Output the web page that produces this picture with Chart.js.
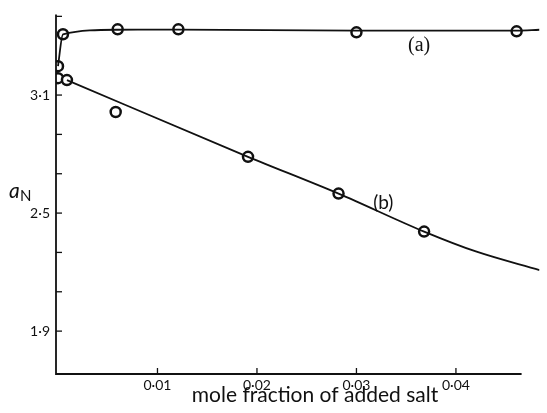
<!DOCTYPE html>
<html>
<head>
<meta charset="utf-8">
<script src="https://cdn.jsdelivr.net/npm/chart.js@4"></script>
<style>
  html, body { margin: 0; padding: 0; background: #fff; }
  #wrap { width: 547px; height: 413px; }
</style>
</head>
<body>
<div id="wrap"><canvas id="saltChart" width="547" height="413"></canvas></div>
<script>
// --- Data ---
// measured points, curve (a)
const aX = [0, 0.0005, 0.0060, 0.0121, 0.0300, 0.0461];
const aY = [3.247, 3.409, 3.434, 3.434, 3.419, 3.424];
// measured points, curve (b)
const bX = [0, 0.0009, 0.0058, 0.0191, 0.0282, 0.0368];
const bY = [3.186, 3.176, 3.014, 2.786, 2.599, 2.406];
// hand-drawn fitted curves (nodes)
const curveAX = [0, 0.0005, 0.0060, 0.0121, 0.0300, 0.0461, 0.0484];
const curveAY = [3.247, 3.409, 3.432, 3.433, 3.428, 3.428, 3.432];
const curveBX = [0.0009, 0.0191, 0.0282, 0.0368, 0.0420, 0.0484];
const curveBY = [3.176, 2.786, 2.599, 2.406, 2.305, 2.210];
// ticks
const xTicks = [0.01, 0.02, 0.03, 0.04];
const yTicks = [1.9, 2.1, 2.3, 2.5, 2.7, 2.9, 3.1, 3.5];
const yLabelled = [1.9, 2.5, 3.1];

const pts = (xs, ys) => xs.map((x, i) => ({ x: x, y: ys[i] }));
const dotLabel = v => v.toString().replace(".", "·");

// axes, inward tick marks and free text
const decorPlugin = {
  id: "decor",
  afterDraw(chart) {
    const c = chart.ctx;
    const xs = chart.scales.x, ys = chart.scales.y;
    const a = chart.chartArea;
    c.save();
    c.strokeStyle = "#111";
    c.lineWidth = 1.8;
    c.beginPath();
    c.moveTo(a.left, a.top);
    c.lineTo(a.left, a.bottom);
    c.lineTo(xs.getPixelForValue(0.0466), a.bottom);
    c.stroke();
    c.lineWidth = 1.3;
    xTicks.forEach(v => {
      const px = xs.getPixelForValue(v);
      c.beginPath(); c.moveTo(px, a.bottom); c.lineTo(px, a.bottom - 6); c.stroke();
    });
    yTicks.forEach(v => {
      const py = ys.getPixelForValue(v);
      c.beginPath(); c.moveTo(a.left, py); c.lineTo(a.left + 6, py); c.stroke();
    });
    c.fillStyle = "#111";
    c.textBaseline = "alphabetic";
    c.textAlign = "center";
    c.font = "21px Lato";
    c.fillText("mole fraction of added salt", 315, 402);
    c.font = "20px 'Liberation Serif'";
    c.fillText("(a)", xs.getPixelForValue(0.0363), ys.getPixelForValue(3.325));
    c.font = "19px Lato";
    c.fillText("(b)", xs.getPixelForValue(0.0327), ys.getPixelForValue(2.52));
    c.textAlign = "left";
    c.font = "italic 21px Lato";
    c.fillText("a", 9, 198);
    c.font = "15px Lato";
    c.fillText("N", 20, 201);
    c.restore();
  }
};

const circle = {
  pointRadius: 5,
  pointHoverRadius: 5,
  pointBackgroundColor: "#fff",
  pointBorderColor: "#111",
  pointBorderWidth: 2.5,
  showLine: false
};

new Chart(document.getElementById("saltChart"), {
  type: "scatter",
  data: {
    datasets: [
      { data: pts(curveAX, curveAY), showLine: true, pointRadius: 0, borderColor: "#111",
        borderWidth: 1.8, cubicInterpolationMode: "monotone", fill: false },
      { data: pts(curveBX, curveBY), showLine: true, pointRadius: 0, borderColor: "#111",
        borderWidth: 1.8, cubicInterpolationMode: "monotone", fill: false },
      Object.assign({ data: pts(aX, aY) }, circle),
      Object.assign({ data: pts(bX, bY) }, circle)
    ]
  },
  options: {
    responsive: false,
    animation: false,
    events: [],
    layout: { padding: { left: 0, top: 13, right: 0, bottom: 0 } },
    plugins: { legend: { display: false }, tooltip: { enabled: false } },
    scales: {
      x: {
        type: "linear",
        min: -0.0002,
        max: 0.0484,
        grid: { display: false, drawTicks: false },
        border: { display: false },
        afterBuildTicks: s => { s.ticks = xTicks.map(v => ({ value: v })); },
        afterFit: s => { s.height = 39; },
        ticks: {
          padding: 3,
          color: "#111",
          font: { family: "Lato", size: 14 },
          maxRotation: 0,
          callback: v => dotLabel(v)
        }
      },
      y: {
        type: "linear",
        min: 1.682,
        max: 3.51,
        grid: { display: false, drawTicks: false },
        border: { display: false },
        afterBuildTicks: s => { s.ticks = yTicks.map(v => ({ value: v })); },
        afterFit: s => { s.width = 56; },
        ticks: {
          padding: 6,
          color: "#111",
          font: { family: "Lato", size: 14 },
          callback: v => (yLabelled.includes(v) ? dotLabel(v) : "")
        }
      }
    }
  },
  plugins: [decorPlugin]
});
</script>
</body>
</html>
